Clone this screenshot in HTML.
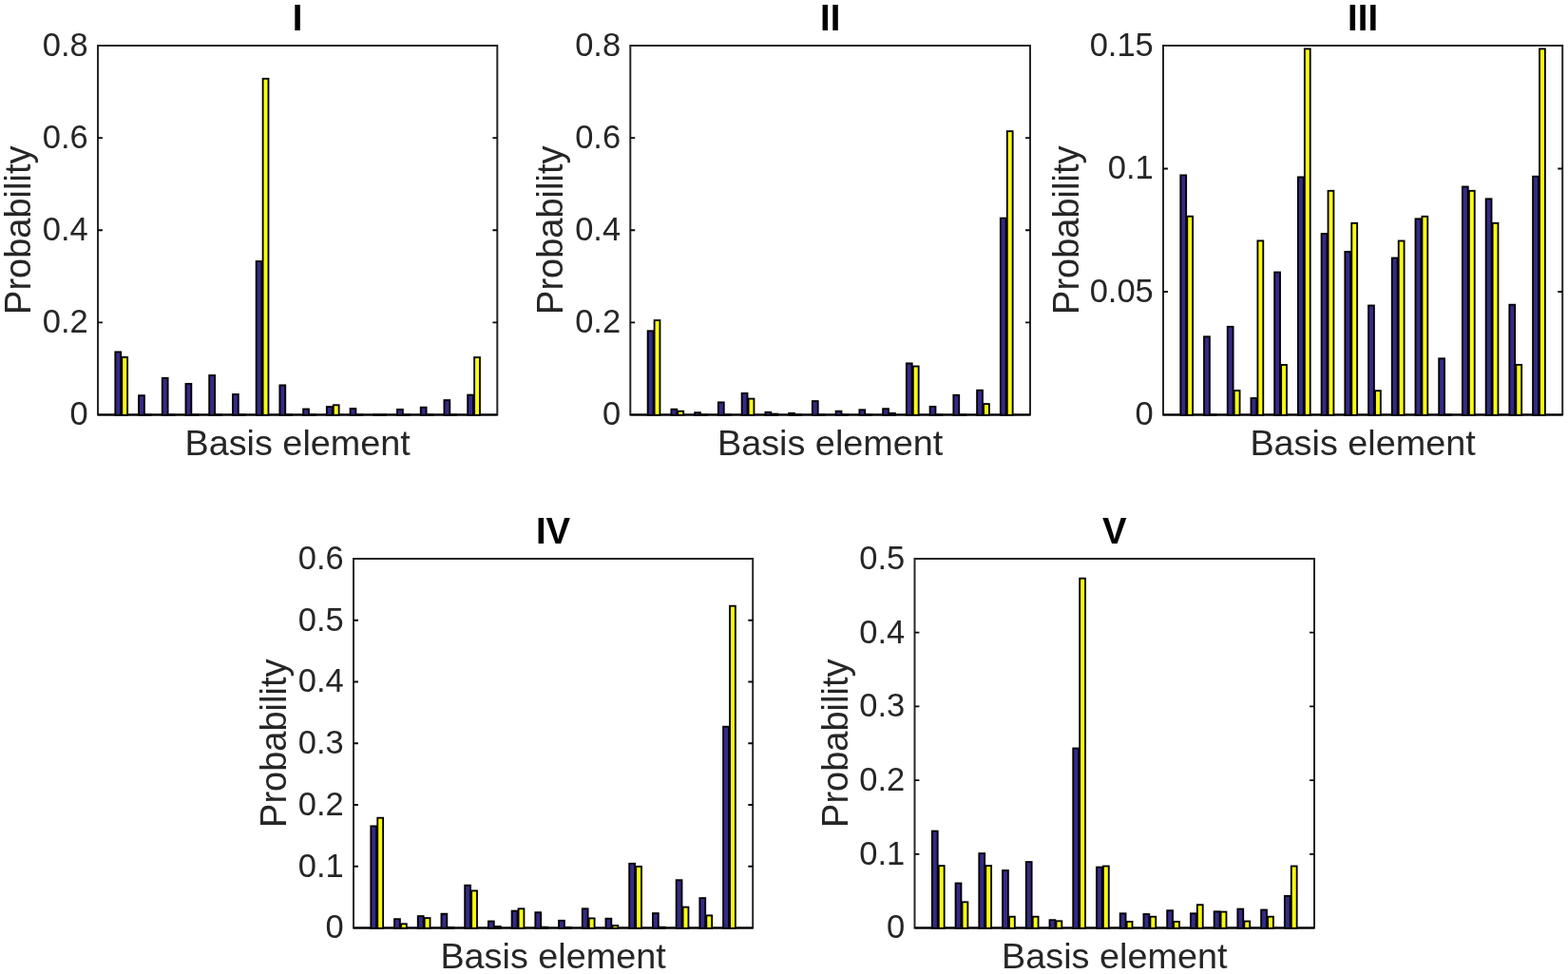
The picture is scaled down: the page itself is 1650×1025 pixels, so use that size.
<!DOCTYPE html>
<html><head><meta charset="utf-8"><title>Basis element probabilities</title>
<style>
html,body{margin:0;padding:0;background:#fff;}
body{width:1650px;height:1025px;overflow:hidden;}
svg{display:block;font-family:'Liberation Sans', Arial, Helvetica, sans-serif;}
</style></head><body>
<svg width="1650" height="1025" viewBox="0 0 1650 1025">
<rect width="1650" height="1025" fill="#fff"/>
<rect x="103" y="48" width="420.3" height="388.5" fill="none" stroke="#262626" stroke-width="2"/>
<path d="M103 436.5H523.3" stroke="#000" stroke-width="2"/>
<g stroke="#000" stroke-width="1.85"><rect x="121.32" y="370.4" width="5.85" height="66.4" fill="#352a87"/><rect x="128.27" y="375.9" width="5.85" height="60.9" fill="#f9fb0e"/><rect x="146.05" y="416.2" width="5.85" height="20.6" fill="#352a87"/><rect x="153" y="436.5" width="5.85" height="0.3" fill="#f9fb0e"/><rect x="170.77" y="397.8" width="5.85" height="39" fill="#352a87"/><rect x="177.72" y="436.5" width="5.85" height="0.3" fill="#f9fb0e"/><rect x="195.49" y="403.9" width="5.85" height="32.9" fill="#352a87"/><rect x="202.44" y="436.5" width="5.85" height="0.3" fill="#f9fb0e"/><rect x="220.22" y="395" width="5.85" height="41.8" fill="#352a87"/><rect x="227.17" y="436.5" width="5.85" height="0.3" fill="#f9fb0e"/><rect x="244.94" y="415" width="5.85" height="21.8" fill="#352a87"/><rect x="251.89" y="436.5" width="5.85" height="0.3" fill="#f9fb0e"/><rect x="269.66" y="275" width="5.85" height="161.8" fill="#352a87"/><rect x="276.61" y="82.8" width="5.85" height="354" fill="#f9fb0e"/><rect x="294.39" y="405.4" width="5.85" height="31.4" fill="#352a87"/><rect x="301.34" y="436.5" width="5.85" height="0.3" fill="#f9fb0e"/><rect x="319.11" y="430.5" width="5.85" height="6.3" fill="#352a87"/><rect x="326.06" y="436.5" width="5.85" height="0.3" fill="#f9fb0e"/><rect x="343.84" y="428.1" width="5.85" height="8.7" fill="#352a87"/><rect x="350.79" y="426.3" width="5.85" height="10.5" fill="#f9fb0e"/><rect x="368.56" y="430" width="5.85" height="6.8" fill="#352a87"/><rect x="375.51" y="436.5" width="5.85" height="0.3" fill="#f9fb0e"/><rect x="393.28" y="436.5" width="5.85" height="0.3" fill="#352a87"/><rect x="400.23" y="436.5" width="5.85" height="0.3" fill="#f9fb0e"/><rect x="418.01" y="430.9" width="5.85" height="5.9" fill="#352a87"/><rect x="424.96" y="436.5" width="5.85" height="0.3" fill="#f9fb0e"/><rect x="442.73" y="428.7" width="5.85" height="8.1" fill="#352a87"/><rect x="449.68" y="436.5" width="5.85" height="0.3" fill="#f9fb0e"/><rect x="467.45" y="421.1" width="5.85" height="15.7" fill="#352a87"/><rect x="474.4" y="436.5" width="5.85" height="0.3" fill="#f9fb0e"/><rect x="492.18" y="415.6" width="5.85" height="21.2" fill="#352a87"/><rect x="499.13" y="376.1" width="5.85" height="60.7" fill="#f9fb0e"/></g>
<path d="M103 339.38H107.9M523.3 339.38H518.4M103 242.25H107.9M523.3 242.25H518.4M103 145.12H107.9M523.3 145.12H518.4" stroke="#0a0a0a" stroke-width="1.8" fill="none"/>
<g font-size="34.5" text-anchor="end" fill="#262626"><text x="92.8" y="447.3">0</text><text x="92.8" y="350.18">0.2</text><text x="92.8" y="253.05">0.4</text><text x="92.8" y="155.93">0.6</text><text x="92.8" y="58.8">0.8</text></g>
<text x="313.15" y="479.1" font-size="37.8" text-anchor="middle" fill="#262626">Basis element</text>
<text transform="translate(32.1 242.25) rotate(-90)" font-size="38" text-anchor="middle" fill="#262626">Probability</text>
<text x="313.15" y="31.9" font-size="38.4" font-weight="bold" text-anchor="middle" fill="#000">I</text>
<rect x="663.3" y="48" width="420.7" height="388.5" fill="none" stroke="#262626" stroke-width="2"/>
<path d="M663.3 436.5H1084" stroke="#000" stroke-width="2"/>
<g stroke="#000" stroke-width="1.85"><rect x="681.65" y="348.3" width="5.85" height="88.5" fill="#352a87"/><rect x="688.6" y="337.1" width="5.85" height="99.7" fill="#f9fb0e"/><rect x="706.39" y="430.7" width="5.85" height="6.1" fill="#352a87"/><rect x="713.34" y="432.7" width="5.85" height="4.1" fill="#f9fb0e"/><rect x="731.14" y="434.2" width="5.85" height="2.6" fill="#352a87"/><rect x="738.09" y="436.5" width="5.85" height="0.3" fill="#f9fb0e"/><rect x="755.89" y="423.4" width="5.85" height="13.4" fill="#352a87"/><rect x="762.84" y="436.5" width="5.85" height="0.3" fill="#f9fb0e"/><rect x="780.64" y="413.9" width="5.85" height="22.9" fill="#352a87"/><rect x="787.59" y="419.6" width="5.85" height="17.2" fill="#f9fb0e"/><rect x="805.38" y="433.8" width="5.85" height="3" fill="#352a87"/><rect x="812.33" y="435.6" width="5.85" height="1.2" fill="#f9fb0e"/><rect x="830.13" y="434.9" width="5.85" height="1.9" fill="#352a87"/><rect x="837.08" y="436.5" width="5.85" height="0.3" fill="#f9fb0e"/><rect x="854.88" y="422.1" width="5.85" height="14.7" fill="#352a87"/><rect x="861.83" y="436.5" width="5.85" height="0.3" fill="#f9fb0e"/><rect x="879.62" y="432.7" width="5.85" height="4.1" fill="#352a87"/><rect x="886.57" y="436.5" width="5.85" height="0.3" fill="#f9fb0e"/><rect x="904.37" y="431.3" width="5.85" height="5.5" fill="#352a87"/><rect x="911.32" y="436.5" width="5.85" height="0.3" fill="#f9fb0e"/><rect x="929.12" y="430.2" width="5.85" height="6.6" fill="#352a87"/><rect x="936.07" y="434.9" width="5.85" height="1.9" fill="#f9fb0e"/><rect x="953.86" y="382.4" width="5.85" height="54.4" fill="#352a87"/><rect x="960.81" y="385.5" width="5.85" height="51.3" fill="#f9fb0e"/><rect x="978.61" y="427.9" width="5.85" height="8.9" fill="#352a87"/><rect x="985.56" y="436.5" width="5.85" height="0.3" fill="#f9fb0e"/><rect x="1003.36" y="415.8" width="5.85" height="21" fill="#352a87"/><rect x="1010.31" y="436.5" width="5.85" height="0.3" fill="#f9fb0e"/><rect x="1028.11" y="410.7" width="5.85" height="26.1" fill="#352a87"/><rect x="1035.06" y="425.1" width="5.85" height="11.7" fill="#f9fb0e"/><rect x="1052.85" y="229.6" width="5.85" height="207.2" fill="#352a87"/><rect x="1059.8" y="138.1" width="5.85" height="298.7" fill="#f9fb0e"/></g>
<path d="M663.3 339.38H668.2M1084 339.38H1079.1M663.3 242.25H668.2M1084 242.25H1079.1M663.3 145.12H668.2M1084 145.12H1079.1" stroke="#0a0a0a" stroke-width="1.8" fill="none"/>
<g font-size="34.5" text-anchor="end" fill="#262626"><text x="653.1" y="447.3">0</text><text x="653.1" y="350.18">0.2</text><text x="653.1" y="253.05">0.4</text><text x="653.1" y="155.93">0.6</text><text x="653.1" y="58.8">0.8</text></g>
<text x="873.65" y="479.1" font-size="37.8" text-anchor="middle" fill="#262626">Basis element</text>
<text transform="translate(592.4 242.25) rotate(-90)" font-size="38" text-anchor="middle" fill="#262626">Probability</text>
<text x="873.65" y="31.9" font-size="38.4" font-weight="bold" text-anchor="middle" fill="#000">II</text>
<rect x="1224" y="48" width="420.2" height="388.5" fill="none" stroke="#262626" stroke-width="2"/>
<path d="M1224 436.5H1644.2" stroke="#000" stroke-width="2"/>
<g stroke="#000" stroke-width="1.85"><rect x="1242.32" y="184.4" width="5.85" height="252.4" fill="#352a87"/><rect x="1249.27" y="227.7" width="5.85" height="209.1" fill="#f9fb0e"/><rect x="1267.04" y="354.3" width="5.85" height="82.5" fill="#352a87"/><rect x="1273.99" y="436.5" width="5.85" height="0.3" fill="#f9fb0e"/><rect x="1291.75" y="343.8" width="5.85" height="93" fill="#352a87"/><rect x="1298.7" y="411" width="5.85" height="25.8" fill="#f9fb0e"/><rect x="1316.47" y="419" width="5.85" height="17.8" fill="#352a87"/><rect x="1323.42" y="253.4" width="5.85" height="183.4" fill="#f9fb0e"/><rect x="1341.19" y="286.5" width="5.85" height="150.3" fill="#352a87"/><rect x="1348.14" y="384" width="5.85" height="52.8" fill="#f9fb0e"/><rect x="1365.91" y="186.4" width="5.85" height="250.4" fill="#352a87"/><rect x="1372.86" y="51.4" width="5.85" height="385.4" fill="#f9fb0e"/><rect x="1390.62" y="246" width="5.85" height="190.8" fill="#352a87"/><rect x="1397.57" y="200.8" width="5.85" height="236" fill="#f9fb0e"/><rect x="1415.34" y="264.9" width="5.85" height="171.9" fill="#352a87"/><rect x="1422.29" y="234.8" width="5.85" height="202" fill="#f9fb0e"/><rect x="1440.06" y="321.5" width="5.85" height="115.3" fill="#352a87"/><rect x="1447.01" y="411.2" width="5.85" height="25.6" fill="#f9fb0e"/><rect x="1464.78" y="271.5" width="5.85" height="165.3" fill="#352a87"/><rect x="1471.73" y="253.5" width="5.85" height="183.3" fill="#f9fb0e"/><rect x="1489.49" y="230.3" width="5.85" height="206.5" fill="#352a87"/><rect x="1496.44" y="227.8" width="5.85" height="209" fill="#f9fb0e"/><rect x="1514.21" y="377.3" width="5.85" height="59.5" fill="#352a87"/><rect x="1521.16" y="436.5" width="5.85" height="0.3" fill="#f9fb0e"/><rect x="1538.93" y="196.5" width="5.85" height="240.3" fill="#352a87"/><rect x="1545.88" y="200.8" width="5.85" height="236" fill="#f9fb0e"/><rect x="1563.65" y="209.3" width="5.85" height="227.5" fill="#352a87"/><rect x="1570.6" y="234.8" width="5.85" height="202" fill="#f9fb0e"/><rect x="1588.36" y="320.7" width="5.85" height="116.1" fill="#352a87"/><rect x="1595.31" y="383.9" width="5.85" height="52.9" fill="#f9fb0e"/><rect x="1613.08" y="185.7" width="5.85" height="251.1" fill="#352a87"/><rect x="1620.03" y="51.4" width="5.85" height="385.4" fill="#f9fb0e"/></g>
<path d="M1224 307H1228.9M1644.2 307H1639.3M1224 177.5H1228.9M1644.2 177.5H1639.3" stroke="#0a0a0a" stroke-width="1.8" fill="none"/>
<g font-size="34.5" text-anchor="end" fill="#262626"><text x="1213.8" y="447.3">0</text><text x="1213.8" y="317.8">0.05</text><text x="1213.8" y="188.3">0.1</text><text x="1213.8" y="58.8">0.15</text></g>
<text x="1434.1" y="479.1" font-size="37.8" text-anchor="middle" fill="#262626">Basis element</text>
<text transform="translate(1134.5 242.25) rotate(-90)" font-size="38" text-anchor="middle" fill="#262626">Probability</text>
<text x="1434.1" y="31.9" font-size="38.4" font-weight="bold" text-anchor="middle" fill="#000">III</text>
<rect x="372" y="588" width="420.2" height="388.5" fill="none" stroke="#262626" stroke-width="2"/>
<path d="M372 976.5H792.2" stroke="#000" stroke-width="2"/>
<g stroke="#000" stroke-width="1.85"><rect x="390.32" y="869.4" width="5.85" height="107.4" fill="#352a87"/><rect x="397.27" y="860.7" width="5.85" height="116.1" fill="#f9fb0e"/><rect x="415.04" y="967.2" width="5.85" height="9.6" fill="#352a87"/><rect x="421.99" y="972.3" width="5.85" height="4.5" fill="#f9fb0e"/><rect x="439.75" y="964.1" width="5.85" height="12.7" fill="#352a87"/><rect x="446.7" y="966.1" width="5.85" height="10.7" fill="#f9fb0e"/><rect x="464.47" y="961.7" width="5.85" height="15.1" fill="#352a87"/><rect x="471.42" y="975.9" width="5.85" height="0.9" fill="#f9fb0e"/><rect x="489.19" y="931.7" width="5.85" height="45.1" fill="#352a87"/><rect x="496.14" y="937.4" width="5.85" height="39.4" fill="#f9fb0e"/><rect x="513.91" y="969.5" width="5.85" height="7.3" fill="#352a87"/><rect x="520.86" y="975" width="5.85" height="1.8" fill="#f9fb0e"/><rect x="538.62" y="958.6" width="5.85" height="18.2" fill="#352a87"/><rect x="545.57" y="956.3" width="5.85" height="20.5" fill="#f9fb0e"/><rect x="563.34" y="960.2" width="5.85" height="16.6" fill="#352a87"/><rect x="570.29" y="975.7" width="5.85" height="1.1" fill="#f9fb0e"/><rect x="588.06" y="968.8" width="5.85" height="8" fill="#352a87"/><rect x="595.01" y="975.9" width="5.85" height="0.9" fill="#f9fb0e"/><rect x="612.78" y="956.3" width="5.85" height="20.5" fill="#352a87"/><rect x="619.73" y="966.4" width="5.85" height="10.4" fill="#f9fb0e"/><rect x="637.49" y="966.7" width="5.85" height="10.1" fill="#352a87"/><rect x="644.44" y="974" width="5.85" height="2.8" fill="#f9fb0e"/><rect x="662.21" y="908.8" width="5.85" height="68" fill="#352a87"/><rect x="669.16" y="911.9" width="5.85" height="64.9" fill="#f9fb0e"/><rect x="686.93" y="961.1" width="5.85" height="15.7" fill="#352a87"/><rect x="693.88" y="975.7" width="5.85" height="1.1" fill="#f9fb0e"/><rect x="711.65" y="926.2" width="5.85" height="50.6" fill="#352a87"/><rect x="718.6" y="954.6" width="5.85" height="22.2" fill="#f9fb0e"/><rect x="736.36" y="945.1" width="5.85" height="31.7" fill="#352a87"/><rect x="743.31" y="963.4" width="5.85" height="13.4" fill="#f9fb0e"/><rect x="761.08" y="764.7" width="5.85" height="212.1" fill="#352a87"/><rect x="768.03" y="637.7" width="5.85" height="339.1" fill="#f9fb0e"/></g>
<path d="M372 911.75H376.9M792.2 911.75H787.3M372 847H376.9M792.2 847H787.3M372 782.25H376.9M792.2 782.25H787.3M372 717.5H376.9M792.2 717.5H787.3M372 652.75H376.9M792.2 652.75H787.3" stroke="#0a0a0a" stroke-width="1.8" fill="none"/>
<g font-size="34.5" text-anchor="end" fill="#262626"><text x="361.8" y="987.3">0</text><text x="361.8" y="922.55">0.1</text><text x="361.8" y="857.8">0.2</text><text x="361.8" y="793.05">0.3</text><text x="361.8" y="728.3">0.4</text><text x="361.8" y="663.55">0.5</text><text x="361.8" y="598.8">0.6</text></g>
<text x="582.1" y="1019.1" font-size="37.8" text-anchor="middle" fill="#262626">Basis element</text>
<text transform="translate(301.1 782.25) rotate(-90)" font-size="38" text-anchor="middle" fill="#262626">Probability</text>
<text x="582.1" y="571.9" font-size="38.4" font-weight="bold" text-anchor="middle" fill="#000">IV</text>
<rect x="962.5" y="588" width="420.5" height="388.5" fill="none" stroke="#262626" stroke-width="2"/>
<path d="M962.5 976.5H1383" stroke="#000" stroke-width="2"/>
<g stroke="#000" stroke-width="1.85"><rect x="980.84" y="874.6" width="5.85" height="102.2" fill="#352a87"/><rect x="987.79" y="911.1" width="5.85" height="65.7" fill="#f9fb0e"/><rect x="1005.57" y="929.5" width="5.85" height="47.3" fill="#352a87"/><rect x="1012.52" y="949.3" width="5.85" height="27.5" fill="#f9fb0e"/><rect x="1030.31" y="898.1" width="5.85" height="78.7" fill="#352a87"/><rect x="1037.26" y="911.1" width="5.85" height="65.7" fill="#f9fb0e"/><rect x="1055.04" y="916" width="5.85" height="60.8" fill="#352a87"/><rect x="1061.99" y="964.7" width="5.85" height="12.1" fill="#f9fb0e"/><rect x="1079.78" y="907.1" width="5.85" height="69.7" fill="#352a87"/><rect x="1086.73" y="964.7" width="5.85" height="12.1" fill="#f9fb0e"/><rect x="1104.51" y="968.2" width="5.85" height="8.6" fill="#352a87"/><rect x="1111.46" y="969.3" width="5.85" height="7.5" fill="#f9fb0e"/><rect x="1129.25" y="787.5" width="5.85" height="189.3" fill="#352a87"/><rect x="1136.2" y="608.7" width="5.85" height="368.1" fill="#f9fb0e"/><rect x="1153.98" y="912.6" width="5.85" height="64.2" fill="#352a87"/><rect x="1160.93" y="911.5" width="5.85" height="65.3" fill="#f9fb0e"/><rect x="1178.72" y="961.3" width="5.85" height="15.5" fill="#352a87"/><rect x="1185.67" y="969.9" width="5.85" height="6.9" fill="#f9fb0e"/><rect x="1203.45" y="962" width="5.85" height="14.8" fill="#352a87"/><rect x="1210.4" y="964.7" width="5.85" height="12.1" fill="#f9fb0e"/><rect x="1228.19" y="958.2" width="5.85" height="18.6" fill="#352a87"/><rect x="1235.14" y="969.9" width="5.85" height="6.9" fill="#f9fb0e"/><rect x="1252.92" y="961.3" width="5.85" height="15.5" fill="#352a87"/><rect x="1259.87" y="952.2" width="5.85" height="24.6" fill="#f9fb0e"/><rect x="1277.66" y="959.3" width="5.85" height="17.5" fill="#352a87"/><rect x="1284.61" y="959.6" width="5.85" height="17.2" fill="#f9fb0e"/><rect x="1302.39" y="956.6" width="5.85" height="20.2" fill="#352a87"/><rect x="1309.34" y="969.5" width="5.85" height="7.3" fill="#f9fb0e"/><rect x="1327.13" y="957.5" width="5.85" height="19.3" fill="#352a87"/><rect x="1334.08" y="964.7" width="5.85" height="12.1" fill="#f9fb0e"/><rect x="1351.86" y="942.9" width="5.85" height="33.9" fill="#352a87"/><rect x="1358.81" y="911.5" width="5.85" height="65.3" fill="#f9fb0e"/></g>
<path d="M962.5 898.8H967.4M1383 898.8H1378.1M962.5 821.1H967.4M1383 821.1H1378.1M962.5 743.4H967.4M1383 743.4H1378.1M962.5 665.7H967.4M1383 665.7H1378.1" stroke="#0a0a0a" stroke-width="1.8" fill="none"/>
<g font-size="34.5" text-anchor="end" fill="#262626"><text x="952.3" y="987.3">0</text><text x="952.3" y="909.6">0.1</text><text x="952.3" y="831.9">0.2</text><text x="952.3" y="754.2">0.3</text><text x="952.3" y="676.5">0.4</text><text x="952.3" y="598.8">0.5</text></g>
<text x="1172.75" y="1019.1" font-size="37.8" text-anchor="middle" fill="#262626">Basis element</text>
<text transform="translate(891.6 782.25) rotate(-90)" font-size="38" text-anchor="middle" fill="#262626">Probability</text>
<text x="1172.75" y="571.9" font-size="38.4" font-weight="bold" text-anchor="middle" fill="#000">V</text>
</svg>
</body></html>
